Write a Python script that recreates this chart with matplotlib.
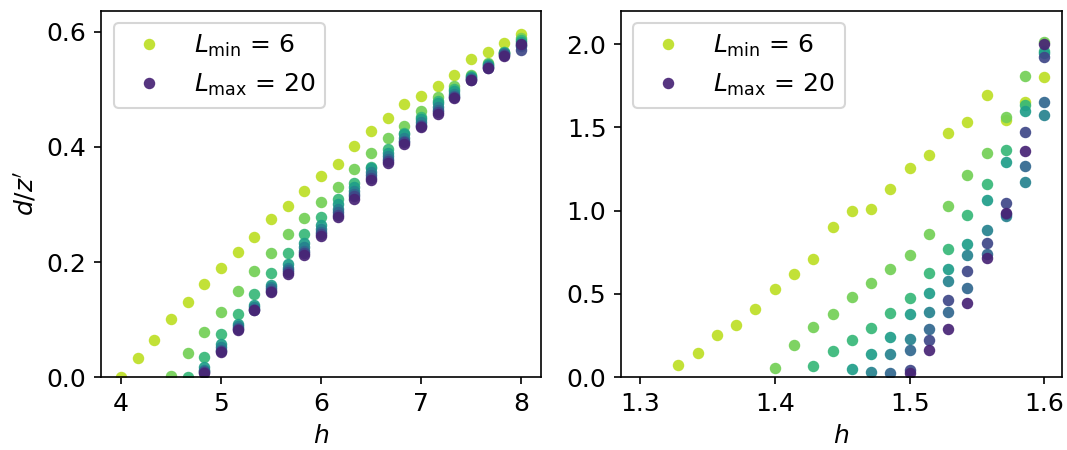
import matplotlib
matplotlib.use("Agg")
import matplotlib.pyplot as plt
import numpy as np

# system sizes
L_values = [6, 8, 10, 12, 14, 16, 18, 20]

# left panel: h = 4 ... 8 in steps of 1/6
h_left = 4 + np.arange(25) / 6.0
# first index where each series is drawn
start_left = [0, 3, 4, 5, 5, 5, 5, 5]
d_left = [
    [0.000, 0.033, 0.065, 0.101, 0.131, 0.162, 0.190, 0.217, 0.243, 0.274, 0.298, 0.324, 0.349,
     0.371, 0.402, 0.428, 0.450, 0.474, 0.489, 0.506, 0.525, 0.553, 0.565, 0.581, 0.596],
    [0.001, 0.041, 0.078, 0.113, 0.149, 0.184, 0.216, 0.249, 0.277, 0.304, 0.330, 0.361,
     0.389, 0.415, 0.436, 0.462, 0.487, 0.506, 0.526, 0.546, 0.566, 0.589],
    [0.000, 0.035, 0.074, 0.110, 0.145, 0.181, 0.216, 0.248, 0.279, 0.310, 0.337, 0.366,
     0.397, 0.425, 0.452, 0.480, 0.501, 0.524, 0.544, 0.565, 0.586],
    [0.018, 0.057, 0.093, 0.126, 0.160, 0.197, 0.233, 0.265, 0.300, 0.330, 0.364, 0.390,
     0.422, 0.448, 0.477, 0.497, 0.522, 0.542, 0.564, 0.583],
    [0.013, 0.052, 0.089, 0.122, 0.156, 0.190, 0.226, 0.258, 0.293, 0.324, 0.357, 0.384,
     0.416, 0.443, 0.470, 0.492, 0.520, 0.540, 0.563, 0.578],
    [0.010, 0.047, 0.085, 0.119, 0.153, 0.186, 0.220, 0.252, 0.287, 0.319, 0.351, 0.379,
     0.411, 0.439, 0.465, 0.489, 0.518, 0.539, 0.562, 0.575],
    [0.008, 0.045, 0.083, 0.117, 0.150, 0.183, 0.216, 0.248, 0.282, 0.314, 0.346, 0.375,
     0.408, 0.436, 0.461, 0.487, 0.517, 0.538, 0.560, 0.569],
    [0.007, 0.043, 0.081, 0.116, 0.148, 0.180, 0.212, 0.245, 0.278, 0.310, 0.342, 0.372,
     0.405, 0.434, 0.458, 0.485, 0.516, 0.537, 0.559, 0.579],
]

# right panel: h = 1.3 ... 1.6 in steps of 1/70
h_right = 1.3 + np.arange(22) / 70.0
start_right = [2, 7, 9, 11, 12, 13, 14, 14]
d_right = [
    [0.072, 0.147, 0.253, 0.311, 0.407, 0.528, 0.618, 0.708, 0.899, 0.998, 1.007, 1.133,
     1.254, 1.336, 1.468, 1.533, 1.695, 1.545, 1.655, 1.805],
    [0.056, 0.195, 0.301, 0.376, 0.478, 0.568, 0.652, 0.732, 0.857, 1.029, 1.216, 1.344,
     1.566, 1.811, 2.012],
    [0.064, 0.155, 0.225, 0.295, 0.387, 0.472, 0.626, 0.772, 0.973, 1.159, 1.364, 1.635, 1.960],
    [0.050, 0.141, 0.241, 0.381, 0.505, 0.652, 0.802, 1.063, 1.294, 1.600, 1.946],
    [0.030, 0.137, 0.231, 0.391, 0.578, 0.732, 0.883, 0.970, 1.170, 1.575],
    [0.024, 0.161, 0.291, 0.391, 0.538, 0.742, 0.980, 1.270, 1.651],
    [0.044, 0.225, 0.461, 0.638, 0.807, 1.049, 1.474, 1.925],
    [0.024, 0.161, 0.291, 0.445, 0.718, 0.987, 1.360, 2.002],
]

colors = plt.cm.viridis(np.linspace(0.9, 0.1, len(L_values)))

plt.rcParams['font.size'] = 12

fig = plt.figure(figsize=(1067 / 150, 450 / 150), dpi=150)
ax1 = fig.add_axes([0.0947, 0.1622, 0.4124, 0.8140])
ax2 = fig.add_axes([0.582, 0.1622, 0.4133, 0.8140])


def draw(ax, h, starts, data):
    for i, L in enumerate(L_values):
        hs = h[starts[i]:starts[i] + len(data[i])]
        if i == 0:
            lab = r'$L_{\rm min}$ = %d' % L
        elif i == len(L_values) - 1:
            lab = r'$L_{\rm max}$ = %d' % L
        else:
            lab = None
        ax.plot(hs, data[i], 'o', ls='none', ms=5.5, mew=0, color=colors[i],
                alpha=0.92, label=lab)
    ax.legend(loc='upper left', fontsize=12)
    ax.set_xlabel(r'$h$')


draw(ax1, h_left, start_left, d_left)
ax1.set_xlim(3.8, 8.2)
ax1.set_ylim(0, 0.637)
ax1.set_xticks([4, 5, 6, 7, 8])
ax1.set_yticks([0.0, 0.2, 0.4, 0.6])
ax1.set_ylabel(r"$d/z'$")

draw(ax2, h_right, start_right, d_right)
ax2.set_xlim(1.286, 1.613)
ax2.set_ylim(0, 2.202)
ax2.set_xticks([1.3, 1.4, 1.5, 1.6])
ax2.set_yticks([0.0, 0.5, 1.0, 1.5, 2.0])

fig.savefig('out.png', dpi=150)
